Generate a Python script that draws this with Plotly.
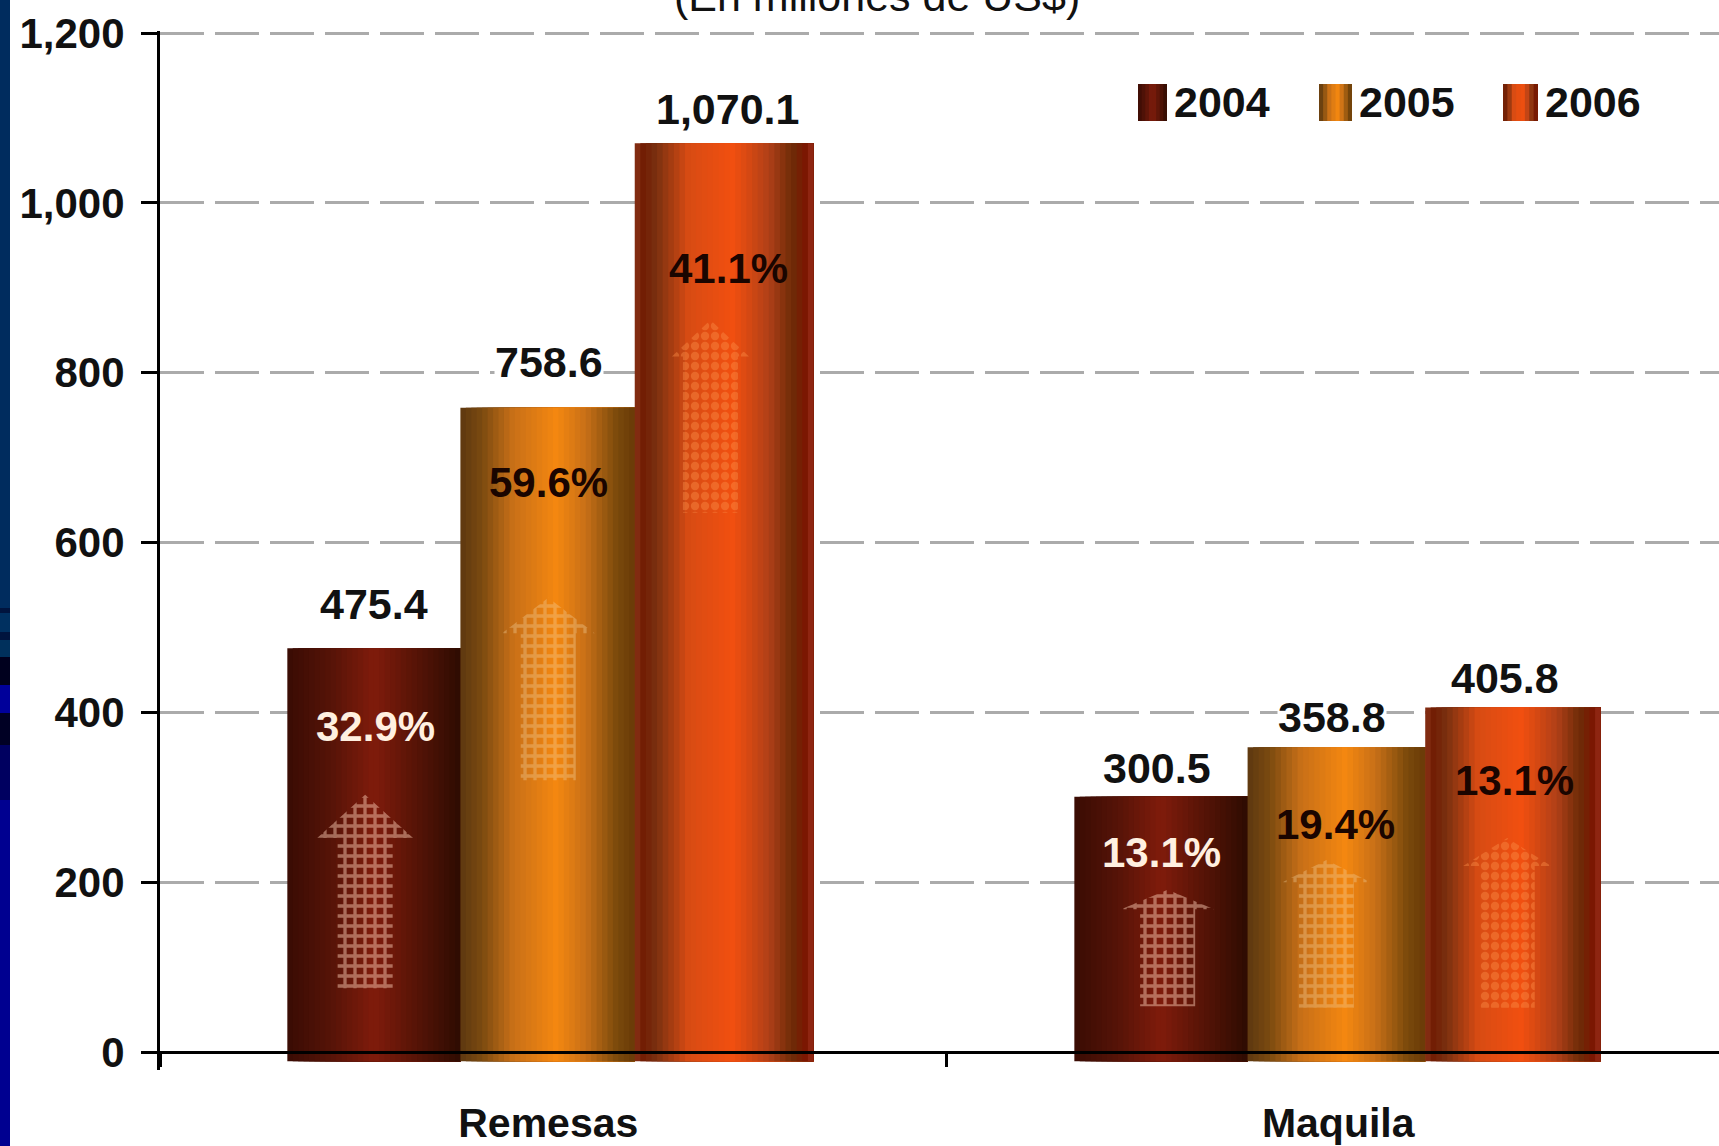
"""Remesas y maquila, 2004-2006 (bar chart with shaded columns)."""
import plotly.graph_objects as go

categories = ["Remesas", "Maquila"]
years = ["2004", "2005", "2006"]
values_2004 = [475.4, 300.5]
values_2005 = [758.6, 358.8]
values_2006 = [1070.1, 405.8]
growth_2004 = ["32.9%", "13.1%"]
growth_2005 = ["59.6%", "19.4%"]
growth_2006 = ["41.1%", "13.1%"]
y_ticks = [0, 200, 400, 600, 800, 1000, 1200]
y_tick_labels = ["0", "200", "400", "600", "800", "1,000", "1,200"]
title_text = "(En millones de US$)"

# where things sit, in axis units (offsets are from the category centre)
BAR_EDGES = [[-0.338, -0.3367], [-0.1178, -0.1163], [0.104, 0.1097], [0.3314, 0.3328]]
BAR_BASE = -11
CATEGORY_LABEL_X = [-0.006, 0.999]
VALUE_LABEL_X = [[-0.228, 0.768], [-0.0048, 0.991], [0.2225, 1.2114]]
VALUE_LABEL_Y = [[528, 335], [812, 394], [1110, 441]]
GROWTH_LABEL_X = [[-0.2252, 0.7748], [-0.0062, 0.9953], [0.2239, 1.2239]]
GROWTH_LABEL_Y = [[383, 235], [671, 268], [923, 320]]
ARROW_X = [[-0.239, 0.782], [-0.006, 0.984], [0.2003, 1.214]]
ARROW_TOP = [[303, 191], [535, 226], [862, 252]]
ARROW_NECK = [[252, 168], [493, 200], [819, 219]]
ARROW_BOTTOM = [[75, 54], [320, 52], [635, 52]]
ARROW_HEAD = [[0.061, 0.059], [0.059, 0.056], [0.049, 0.056]]
ARROW_SHAFT = 0.035

# pixel frame of the page
WIDTH, HEIGHT = 1719, 1146
LEFT, TOP, BOTTOM = 160, 31, 76
PX_PER_UNIT = 1019 / 1200
Y_MIN = -18 / PX_PER_UNIT
Y_MAX = 1200 + 2 / PX_PER_UNIT  # plotly drops a gridline sitting on the very end of the axis
X_MAX = (WIDTH - LEFT) / 786 - 0.5
plot_w = WIDTH - LEFT
plot_h = HEIGHT - TOP - BOTTOM

FONT = "Liberation Sans"
GRADIENTS = [
    [(0, "#3a0c04"), (0.25, "#561408"), (0.5, "#801c0c"), (0.7, "#5e1608"), (1, "#2e0c02")],
    [(0, "#5e3810"), (0.12, "#7a4a10"), (0.3, "#c87018"), (0.55, "#f58810"),
     (0.72, "#c87018"), (0.9, "#7a4a0c"), (1, "#6a3a08")],
    [(0, "#c07050"), (0.02, "#701800"), (0.12, "#7a3010"), (0.3, "#d84c14"), (0.55, "#f25010"),
     (0.75, "#b04018"), (0.88, "#6e2c08"), (0.98, "#801000"), (1, "#c07050")],
]
ARROW_COLORS = ["rgba(250,205,180,0.95)", "rgba(240,205,150,0.75)", "rgba(250,140,70,0.85)"]
ARROW_SHAPES = ["+", "+", "."]
GROWTH_COLORS = ["#fff0e0", "#1a0500", "#1a0500"]
STRIPS = 32


def shade(stops, t):
    """Colour at position t of a left-to-right gradient."""
    for (t0, c0), (t1, c1) in zip(stops, stops[1:]):
        if t <= t1:
            k = (t - t0) / (t1 - t0)
            rgb = [int(c0[i:i + 2], 16) * (1 - k) + int(c1[i:i + 2], 16) * k for i in (1, 3, 5)]
            return "rgb(%d,%d,%d)" % tuple(rgb)
    return stops[-1][1]


fig = go.Figure()

# Columns: each one is painted as nested bars to get the horizontal shading
all_values = [values_2004, values_2005, values_2006]
all_growth = [growth_2004, growth_2005, growth_2006]
for i, vals in enumerate(all_values):
    left_edge, right_edge = BAR_EDGES[i], BAR_EDGES[i + 1]
    for j in range(STRIPS):
        starts = [a + j * (b - a) / STRIPS for a, b in zip(left_edge, right_edge)]
        fig.add_trace(go.Bar(
            x=[0, 1],
            y=[v - BAR_BASE for v in vals],
            base=BAR_BASE,
            offset=starts,
            width=[b - s for s, b in zip(starts, right_edge)],
            marker=dict(color=shade(GRADIENTS[i], (j + 0.5) / STRIPS), line=dict(width=0)),
            name=years[i],
            hoverinfo="skip",
        ))

# Dotted growth arrows inside the columns
for i in range(3):
    for c in range(2):
        cx, head = ARROW_X[i][c], ARROW_HEAD[i][c]
        neck, low = ARROW_NECK[i][c], ARROW_BOTTOM[i][c]
        fig.add_trace(go.Scatter(
            x=[cx - ARROW_SHAFT, cx - ARROW_SHAFT, cx - head, cx, cx + head,
               cx + ARROW_SHAFT, cx + ARROW_SHAFT, cx - ARROW_SHAFT],
            y=[low, neck, neck, ARROW_TOP[i][c], neck, neck, low, low],
            mode="none",
            fill="toself",
            fillcolor="rgba(0,0,0,0)",
            fillpattern=dict(shape=ARROW_SHAPES[i], size=10, solidity=0.55, fgcolor=ARROW_COLORS[i],
                             bgcolor="rgba(0,0,0,0)"),
            hoverinfo="skip",
        ))

annotations = []
for i, vals in enumerate(all_values):
    for c, v in enumerate(vals):
        annotations.append(dict(
            x=VALUE_LABEL_X[i][c], y=VALUE_LABEL_Y[i][c], text=f"{v:,.1f}", showarrow=False,
            font=dict(family=FONT, size=43, color="#111111", weight=700),
            bgcolor="white", borderpad=0,
        ))
        annotations.append(dict(
            x=GROWTH_LABEL_X[i][c], y=GROWTH_LABEL_Y[i][c], text=all_growth[i][c], showarrow=False,
            font=dict(family=FONT, size=42, color=GROWTH_COLORS[i], weight=700),
        ))

# Title, cut by the top of the page like in the source image
annotations.append(dict(
    xref="paper", yref="paper", x=(877 - LEFT) / plot_w, y=1 + (TOP + 4) / plot_h,
    yanchor="middle", text=title_text, showarrow=False,
    font=dict(family=FONT, size=43, color="#111111"),
))

# Legend, drawn by hand so the swatches can carry the shading
shapes = []
legend_x = [1138, 1319, 1503]
swatch_w = [29, 33, 35]
for i in range(3):
    n = 8
    for j in range(n):
        x0 = legend_x[i] + j * swatch_w[i] / n
        shapes.append(dict(
            type="rect", xref="paper", yref="paper", layer="above",
            x0=(x0 - LEFT) / plot_w, x1=(legend_x[i] + swatch_w[i] - LEFT) / plot_w,
            y0=1 - (121 - TOP) / plot_h, y1=1 - (84 - TOP) / plot_h,
            fillcolor=shade(GRADIENTS[i], (j + 0.5) / n), line=dict(width=0),
        ))
    annotations.append(dict(
        xref="paper", yref="paper", x=(legend_x[i] + swatch_w[i] + 5 - LEFT) / plot_w,
        y=1 - (102 - TOP) / plot_h, xanchor="left", yanchor="middle", text=years[i],
        showarrow=False,
        font=dict(family=FONT, size=43, color="#111111", weight=700),
    ))

# Strip of the slide background on the left edge
strip = [(0, 608, "#002c5e"), (608, 613, "#00143e"), (613, 632, "#003060"), (632, 640, "#00143e"),
         (640, 657, "#00305c"), (657, 685, "#00001e"), (685, 713, "#00009a"), (713, 745, "#000024"),
         (745, 800, "#000060"), (800, 1146, "#000090")]
for y0, y1, color in strip:
    shapes.append(dict(
        type="rect", xref="paper", yref="paper", layer="above",
        x0=-LEFT / plot_w, x1=(10 - LEFT) / plot_w,
        y0=1 - (y1 - TOP) / plot_h, y1=1 - (y0 - TOP) / plot_h,
        fillcolor=color, line=dict(width=0),
    ))

fig.update_layout(
    width=WIDTH,
    height=HEIGHT,
    margin=dict(l=LEFT, r=0, t=TOP, b=BOTTOM, pad=0, autoexpand=False),
    barmode="overlay",
    showlegend=False,
    paper_bgcolor="white",
    plot_bgcolor="white",
    annotations=annotations,
    shapes=shapes,
    xaxis=dict(
        range=[-0.5, X_MAX],
        tickvals=CATEGORY_LABEL_X,
        ticktext=categories,
        ticks="",
        anchor="free",
        position=18 / plot_h,
        showgrid=False,
        showline=True,
        linecolor="black",
        linewidth=3,
        zeroline=False,
        ticklabelstandoff=34,
        tickfont=dict(family=FONT, size=41, color="#111111", weight=700),
        minor=dict(tickvals=[-0.5, 0.5], ticks="outside", ticklen=13, tickwidth=3,
                   tickcolor="black"),
    ),
    yaxis=dict(
        range=[Y_MIN, Y_MAX],
        tickvals=y_ticks,
        ticktext=y_tick_labels,
        ticks="outside",
        ticklen=16,
        tickwidth=3,
        tickcolor="black",
        showline=True,
        linecolor="black",
        linewidth=3,
        zeroline=False,
        gridcolor="#ababab",
        gridwidth=3,
        griddash="44px,11px",
        ticklabelstandoff=8,
        tickfont=dict(family=FONT, size=42, color="#111111", weight=700),
    ),
)

# default page margin would push the chart 8px off the window corner
fig.write_html("out.html", config={"displayModeBar": False},
               post_script="document.body.style.margin='0';")
